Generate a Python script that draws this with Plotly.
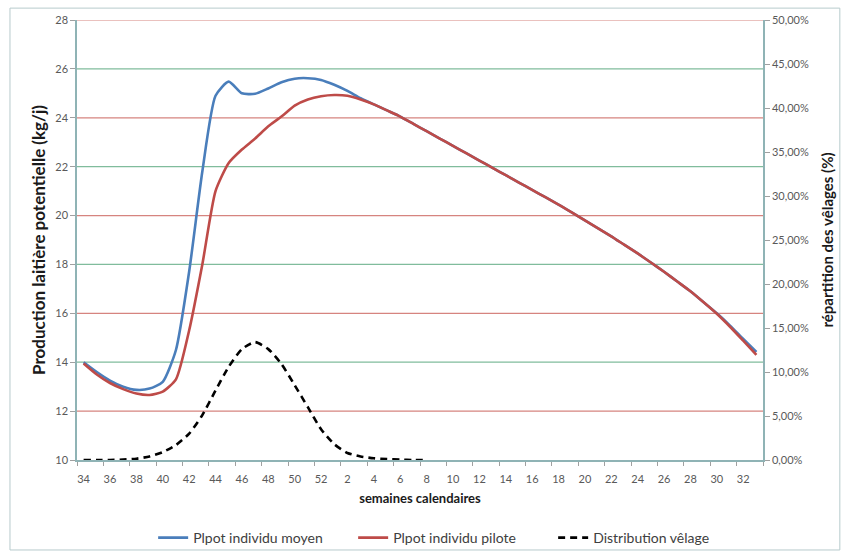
import plotly.graph_objects as go

weeks = [34, 35, 36, 37, 38, 39, 40, 41, 42, 43, 44, 45, 46, 47, 48, 49, 50, 51, 52,
         1, 2, 3, 4, 5, 6, 7, 8, 9, 10, 11, 12, 13, 14, 15, 16, 17, 18, 19, 20,
         21, 22, 23, 24, 25, 26, 27, 28, 29, 30, 31, 32, 33]

moyen = [14.0, 13.6, 13.25, 13.0, 12.87, 12.92, 13.2, 14.5, 17.7, 21.8, 24.9, 25.48,
         25.0, 24.98, 25.2, 25.45, 25.6, 25.62, 25.55, 25.35, 25.1, 24.8, 24.55, 24.3,
         24.05, 23.75, 23.45, 23.15, 22.85, 22.55, 22.25, 21.95, 21.65, 21.35, 21.05, 20.75,
         20.45, 20.13, 19.8, 19.48, 19.15, 18.8, 18.45, 18.08, 17.7, 17.3, 16.9, 16.45,
         16.0, 15.5, 14.95, 14.42]

pilote = [13.95, 13.5, 13.15, 12.9, 12.72, 12.66, 12.8, 13.3, 15.3, 18.0, 21.0, 22.15,
          22.7, 23.15, 23.65, 24.05, 24.5, 24.75, 24.88, 24.93, 24.9, 24.75, 24.55, 24.3,
          24.05, 23.75, 23.45, 23.15, 22.85, 22.55, 22.25, 21.95, 21.65, 21.35, 21.05, 20.75,
          20.45, 20.13, 19.8, 19.48, 19.15, 18.8, 18.45, 18.08, 17.7, 17.3, 16.9, 16.45,
          15.98, 15.45, 14.88, 14.3]

# calving distribution (fraction), weeks 34 .. 8
distribution = [0.0, 0.0, 0.0, 0.0005, 0.0015, 0.004, 0.009, 0.017, 0.030, 0.051,
                0.079, 0.106, 0.126, 0.134, 0.126, 0.109, 0.085, 0.060, 0.035, 0.018,
                0.008, 0.004, 0.002, 0.001, 0.0005, 0.0, 0.0]

# alternating gridline levels (left axis units)
grid_red = [12, 16, 20, 24, 28]
grid_green = [14, 18, 22, 26]

x_idx = list(range(len(weeks)))
label_idx = x_idx[::2]
label_txt = [str(w) for w in weeks[::2]]
boundaries = [i - 0.5 for i in x_idx[::2]] + [len(weeks) - 0.5]

FONT = "Lato"
AX = "#8FB3B5"
RED_GRID = "#D6847F"
GREEN_GRID = "#80BC9C"

fig = go.Figure()
fig.add_trace(go.Scatter(x=x_idx, y=moyen, mode="lines", name="Plpot individu moyen",
                         line=dict(color="#4A7EBB", width=2.6, shape="spline", smoothing=0.6)))
fig.add_trace(go.Scatter(x=x_idx, y=pilote, mode="lines", name="Plpot individu pilote",
                         line=dict(color="#BE4B48", width=2.6, shape="spline", smoothing=0.6)))
fig.add_trace(go.Scatter(x=x_idx[:len(distribution)], y=distribution, mode="lines",
                         name="Distribution vêlage", yaxis="y2",
                         line=dict(color="#000000", width=2.6, dash="7px,5px", shape="spline", smoothing=0.6)))

shapes = [dict(type="line", xref="paper", yref="y", x0=0, x1=1, y0=v, y1=v,
               line=dict(color=RED_GRID, width=1.2), layer="below") for v in grid_red]
shapes += [dict(type="line", xref="paper", yref="y", x0=0, x1=1, y0=v, y1=v,
                line=dict(color=GREEN_GRID, width=1.2), layer="below") for v in grid_green]
shapes.append(dict(type="rect", xref="paper", yref="paper", x0=-0.0977, x1=1.112,
                   y0=-0.2045, y1=1.027, line=dict(color="#B7CBCC", width=1), layer="below"))

fig.update_layout(
    width=848, height=553,
    margin=dict(l=77, r=85, t=20, b=93, autoexpand=False),
    paper_bgcolor="white", plot_bgcolor="white",
    separators=", ",
    font=dict(family=FONT, color="#595959", size=10),
    xaxis=dict(range=[-0.5, len(weeks) - 0.5], tickmode="array", tickvals=label_idx,
               ticktext=label_txt, ticks="", showgrid=False, zeroline=False,
               showline=True, linecolor=AX, linewidth=1.5, automargin=False,
               ticklabelstandoff=8,
               tickfont=dict(size=11, color="#595959"),
               minor=dict(tickmode="array", tickvals=boundaries, ticks="outside",
                          ticklen=4, tickcolor="#A0A0A0", showgrid=False),
               title=dict(text="<b>semaines calendaires</b>", font=dict(size=13, color="#1a1a1a"),
                          standoff=10)),
    yaxis=dict(range=[10, 28], dtick=2, tick0=10, showgrid=False,
               zeroline=False, showline=True, linecolor=AX, linewidth=1.5,
               ticks="outside", ticklen=5, tickcolor="#A0A0A0", automargin=False,
               tickfont=dict(size=11, color="#595959"),
               title=dict(text="<b>Production laitière potentielle (kg/j)</b>",
                          font=dict(size=17, color="#1a1a1a"), standoff=5)),
    yaxis2=dict(range=[0, 0.5], dtick=0.05, tick0=0, tickformat=".2%", overlaying="y",
                side="right", showgrid=False, zeroline=False, showline=True, linecolor=AX,
                linewidth=1.5, ticks="outside", ticklen=5, tickcolor="#A0A0A0",
                automargin=False,
                tickfont=dict(size=11, color="#595959"),
                title=dict(text="<b>répartition des vêlages (%)</b>",
                           font=dict(size=15, color="#1a1a1a"), standoff=15)),
    legend=dict(orientation="h", x=0.111, xanchor="left", y=0.027, yref="container",
                yanchor="middle", entrywidth=155,
                font=dict(size=14, color="#404040"), itemwidth=30, traceorder="normal",
                bgcolor="rgba(0,0,0,0)"),
    shapes=shapes,
)

fig.write_html("out.html")
